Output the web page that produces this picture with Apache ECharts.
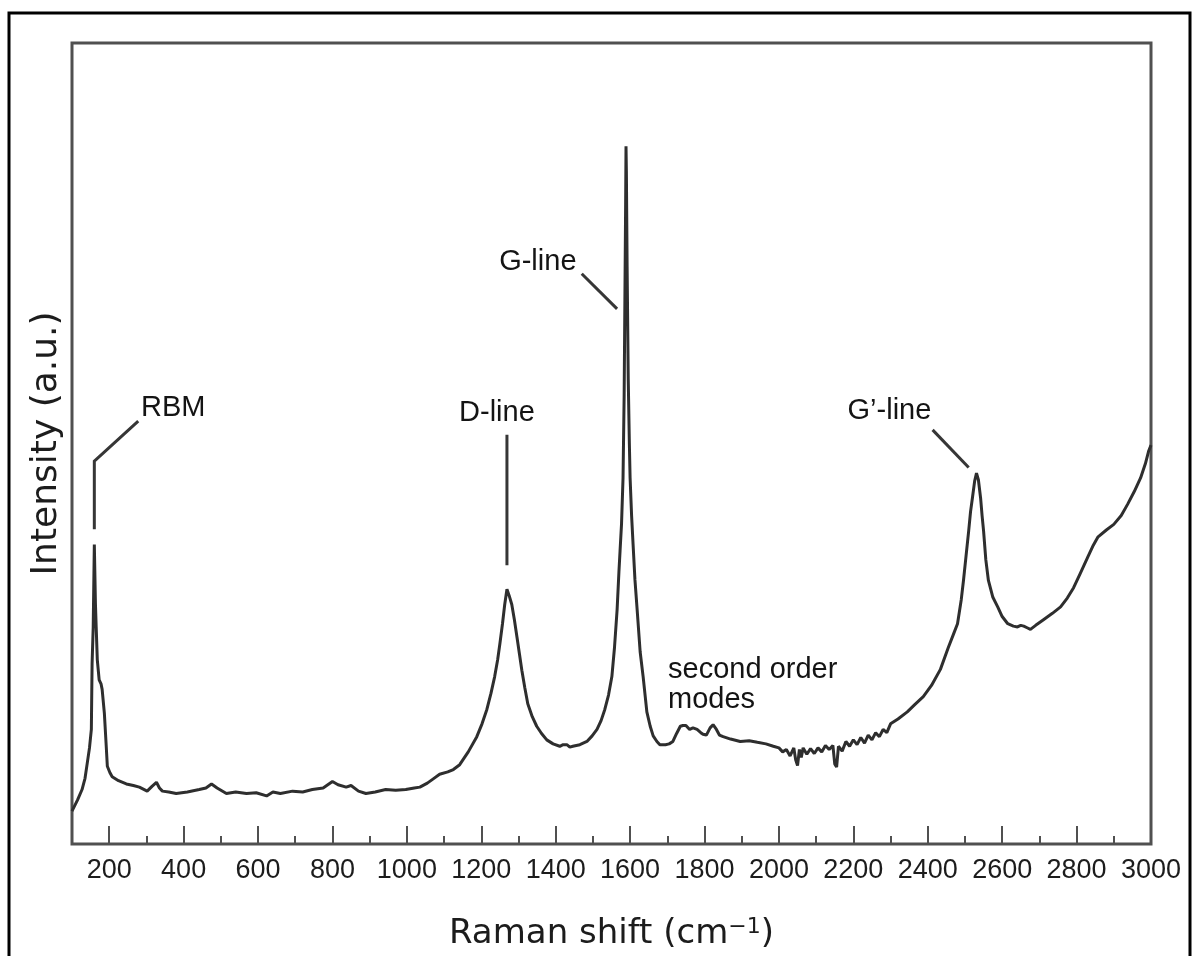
<!DOCTYPE html>
<html>
<head>
<meta charset="utf-8">
<title>Raman spectrum</title>
<script src="https://cdn.jsdelivr.net/npm/echarts@6/dist/echarts.min.js"></script>
<style>
  html, body { margin: 0; padding: 0; background: #fff; }
  #chart { width: 1199px; height: 956px; }
</style>
</head>
<body>
<div id="chart"></div>
<script>
// Raman shift (cm^-1) and measured intensity (arbitrary units, 0-100 across the plot height)
const ramanShift = [
  100, 115, 127, 135, 141, 147, 152, 154, 157, 160, 163, 165, 168, 173, 178, 181, 187, 192, 195, 202,
  208, 225, 246, 265, 281, 302, 315, 327, 335, 343, 360, 380, 410, 442, 460, 475, 490, 515, 540, 569,
  595, 623, 640, 660, 693, 720, 746, 775, 800, 815, 837, 850, 870, 890, 915, 943, 970, 997, 1020, 1035,
  1055, 1070, 1088, 1110, 1125, 1142, 1165, 1188, 1202, 1215, 1226, 1236, 1244, 1250, 1257, 1263, 1269, 1275, 1282, 1289,
  1296, 1303, 1309, 1317, 1325, 1337, 1349, 1362, 1376, 1393, 1411, 1420, 1430, 1438, 1446, 1465, 1484, 1498, 1511, 1522,
  1532, 1542, 1551, 1558, 1565, 1570, 1573, 1577, 1581, 1584, 1586, 1588, 1589, 1590, 1592, 1595, 1598, 1600, 1604, 1608,
  1613, 1619, 1627, 1635, 1645, 1654, 1662, 1672, 1680, 1695, 1705, 1715, 1725, 1735, 1742, 1750, 1760, 1769, 1780, 1790,
  1796, 1805, 1815, 1823, 1832, 1840, 1850, 1870, 1896, 1920, 1942, 1965, 1985, 2000, 2010, 2020, 2030, 2040, 2045, 2050,
  2055, 2060, 2065, 2075, 2085, 2095, 2105, 2115, 2125, 2135, 2145, 2150, 2155, 2160, 2170, 2180, 2190, 2200, 2210, 2220,
  2230, 2240, 2250, 2260, 2270, 2280, 2290, 2300, 2320, 2345, 2365, 2388, 2410, 2434, 2455, 2470, 2480, 2490, 2496, 2503,
  2510, 2515, 2520, 2526, 2531, 2536, 2542, 2546, 2550, 2556, 2563, 2575, 2588, 2600, 2615, 2630, 2641, 2650, 2658, 2667,
  2676, 2690, 2711, 2735, 2757, 2775, 2792, 2810, 2830, 2845, 2857, 2880, 2900, 2920, 2937, 2955, 2972, 2985, 2994, 3000
];
const intensity = [
  4.1, 5.5, 6.8, 8.2, 10.1, 12.0, 14.3, 22.5, 27.1, 37.4, 30.0, 27.1, 23.0, 20.5, 20.0, 19.3, 16.3, 12.2, 9.7, 8.9,
  8.4, 7.9, 7.5, 7.3, 7.1, 6.6, 7.2, 7.7, 7.0, 6.6, 6.5, 6.3, 6.5, 6.8, 7.0, 7.5, 7.0, 6.3, 6.5, 6.3,
  6.4, 6.0, 6.5, 6.3, 6.6, 6.5, 6.8, 7.0, 7.8, 7.4, 7.1, 7.3, 6.6, 6.3, 6.5, 6.8, 6.7, 6.8, 7.0, 7.1,
  7.6, 8.1, 8.7, 9.0, 9.3, 9.9, 11.5, 13.4, 15.0, 16.8, 18.8, 20.9, 23.0, 25.0, 27.5, 29.9, 31.8, 31.0, 29.9, 28.0,
  25.8, 23.6, 21.7, 19.5, 17.5, 15.9, 14.7, 13.8, 13.0, 12.5, 12.2, 12.4, 12.4, 12.1, 12.2, 12.4, 12.8, 13.5, 14.3, 15.4,
  16.8, 18.6, 20.9, 24.5, 29.2, 34.0, 36.6, 40.0, 45.7, 56.0, 68.0, 80.0, 87.1, 84.0, 72.0, 58.0, 50.0, 45.7, 41.0, 37.4,
  33.0, 29.2, 24.0, 20.9, 16.5, 14.7, 13.5, 12.8, 12.4, 12.4, 12.5, 12.8, 13.8, 14.7, 14.8, 14.8, 14.3, 14.5, 14.3, 13.9,
  13.7, 13.6, 14.5, 14.9, 14.3, 13.6, 13.4, 13.1, 12.8, 12.9, 12.7, 12.5, 12.2, 12.0, 11.5, 11.8, 11.0, 12.0, 10.5, 9.8,
  11.8, 10.8, 12.0, 11.2, 11.9, 11.3, 12.0, 11.5, 12.3, 11.8, 12.3, 10.0, 9.6, 12.2, 11.6, 12.8, 12.2, 13.0, 12.4, 13.3,
  12.6, 13.6, 13.0, 13.9, 13.4, 14.3, 13.9, 15.0, 15.6, 16.5, 17.4, 18.4, 19.8, 21.8, 24.5, 26.3, 27.5, 30.5, 32.9, 36.0,
  39.1, 41.5, 43.2, 45.3, 46.3, 45.5, 43.2, 41.0, 39.1, 35.5, 32.9, 30.8, 29.6, 28.4, 27.5, 27.2, 27.1, 27.3, 27.2, 27.0,
  26.8, 27.3, 28.0, 28.8, 29.6, 30.7, 32.0, 33.8, 35.8, 37.3, 38.3, 39.2, 39.9, 41.0, 42.4, 44.0, 45.7, 47.5, 49.1, 49.8
];

// x-axis tick positions: labelled major ticks and short minor ticks
const majorTicks = [200, 400, 600, 800, 1000, 1200, 1400, 1600, 1800, 2000, 2200, 2400, 2600, 2800, 3000];
const minorTicks = [300, 500, 700, 900, 1100, 1300, 1500, 1700, 1900, 2100, 2300, 2500, 2700, 2900];

// peak annotations: label text, label anchor and leader-line path (data coordinates)
const peakLabels = ['RBM', 'D-line', 'G-line', 'G\u2019-line'];
const peakLabelPos = [[372, 54.4], [1242, 53.8], [1352, 72.7], [2297, 54.0]];
const leaderPaths = [
  [[278, 52.8], [160, 47.8], [160, 39.3]],
  [[1269, 51.1], [1269, 34.8]],
  [[1470, 71.2], [1565, 66.8]],
  [[2413, 51.7], [2510, 47.0]]
];
const modesText = 'second order\nmodes';
const modesPos = [1702, 19.9];

const ink = '#2e2e2e';
const frame = '#505050';
const textInk = '#1c1c1c';
const labelFont = 'Liberation Sans, Arial, sans-serif';
const titleFont = 'DejaVu Sans, sans-serif';

const chart = echarts.init(document.getElementById('chart'), null, { renderer: 'canvas' });

const spectrum = ramanShift.map((x, i) => [x, intensity[i]]);

const annotationLabel = {
  show: true, formatter: '{b}',
  color: '#141414', fontSize: 29, fontFamily: labelFont,
  textBorderWidth: 0
};

chart.setOption({
  backgroundColor: '#ffffff',
  animation: false,
  graphic: [{
    type: 'rect',
    shape: { x: 9, y: 13, width: 1181, height: 980 },
    style: { fill: 'none', stroke: '#000', lineWidth: 3 },
    silent: true
  }],
  grid: {
    left: 72, right: 48, top: 43, bottom: 108,
    show: true,
    borderColor: frame,
    borderWidth: 3,
    backgroundColor: 'transparent'
  },
  xAxis: [{
    type: 'value',
    min: 100,
    max: 3000,
    axisLine: { show: false },
    splitLine: { show: false },
    axisTick: {
      show: true, inside: true, length: 18,
      customValues: majorTicks,
      lineStyle: { color: frame, width: 2 }
    },
    axisLabel: {
      show: true, margin: 13,
      customValues: majorTicks,
      formatter: v => String(v),
      color: textInk, fontSize: 27, fontFamily: labelFont
    },
    name: '{t|Raman shift (cm}{s|\u22121}{t|)}',
    nameLocation: 'middle',
    nameGap: 72,
    nameTextStyle: {
      rich: {
        t: { fontSize: 34, fontFamily: titleFont, color: textInk },
        s: { fontSize: 22, fontFamily: titleFont, color: textInk, verticalAlign: 'top', padding: [0, 0, 14, 0] }
      }
    }
  }, {
    type: 'value',
    min: 100,
    max: 3000,
    position: 'bottom',
    axisLine: { show: false },
    splitLine: { show: false },
    axisLabel: { show: false },
    axisTick: {
      show: true, inside: true, length: 8,
      customValues: minorTicks,
      lineStyle: { color: frame, width: 2 }
    }
  }],
  yAxis: {
    type: 'value',
    min: 0,
    max: 100,
    axisLine: { show: false },
    axisTick: { show: false },
    axisLabel: { show: false },
    splitLine: { show: false },
    name: 'Intensity (a.u.)',
    nameLocation: 'middle',
    nameRotate: 90,
    nameGap: 7,
    nameTextStyle: { fontSize: 36, fontFamily: titleFont, color: textInk }
  },
  series: [{
    type: 'line',
    data: spectrum,
    showSymbol: false,
    smooth: false,
    lineStyle: { color: ink, width: 3 },
    z: 3
  }, {
    type: 'lines',
    coordinateSystem: 'cartesian2d',
    polyline: true,
    data: leaderPaths.map(p => ({ coords: p })),
    lineStyle: { color: '#363636', width: 3, opacity: 1 },
    z: 4
  }, {
    type: 'scatter',
    symbolSize: 0.1,
    itemStyle: { color: '#ffffff', opacity: 1 },
    data: peakLabels.map((t, i) => ({ name: t, value: peakLabelPos[i] })),
    label: Object.assign({ position: 'inside' }, annotationLabel),
    emphasis: { disabled: true },
    z: 5
  }, {
    type: 'scatter',
    symbolSize: 0.1,
    itemStyle: { color: '#ffffff', opacity: 1 },
    data: [{ name: modesText, value: modesPos }],
    label: Object.assign({ position: 'inside', align: 'left', verticalAlign: 'middle', lineHeight: 30 }, annotationLabel),
    emphasis: { disabled: true },
    z: 5
  }]
});
</script>
</body>
</html>
